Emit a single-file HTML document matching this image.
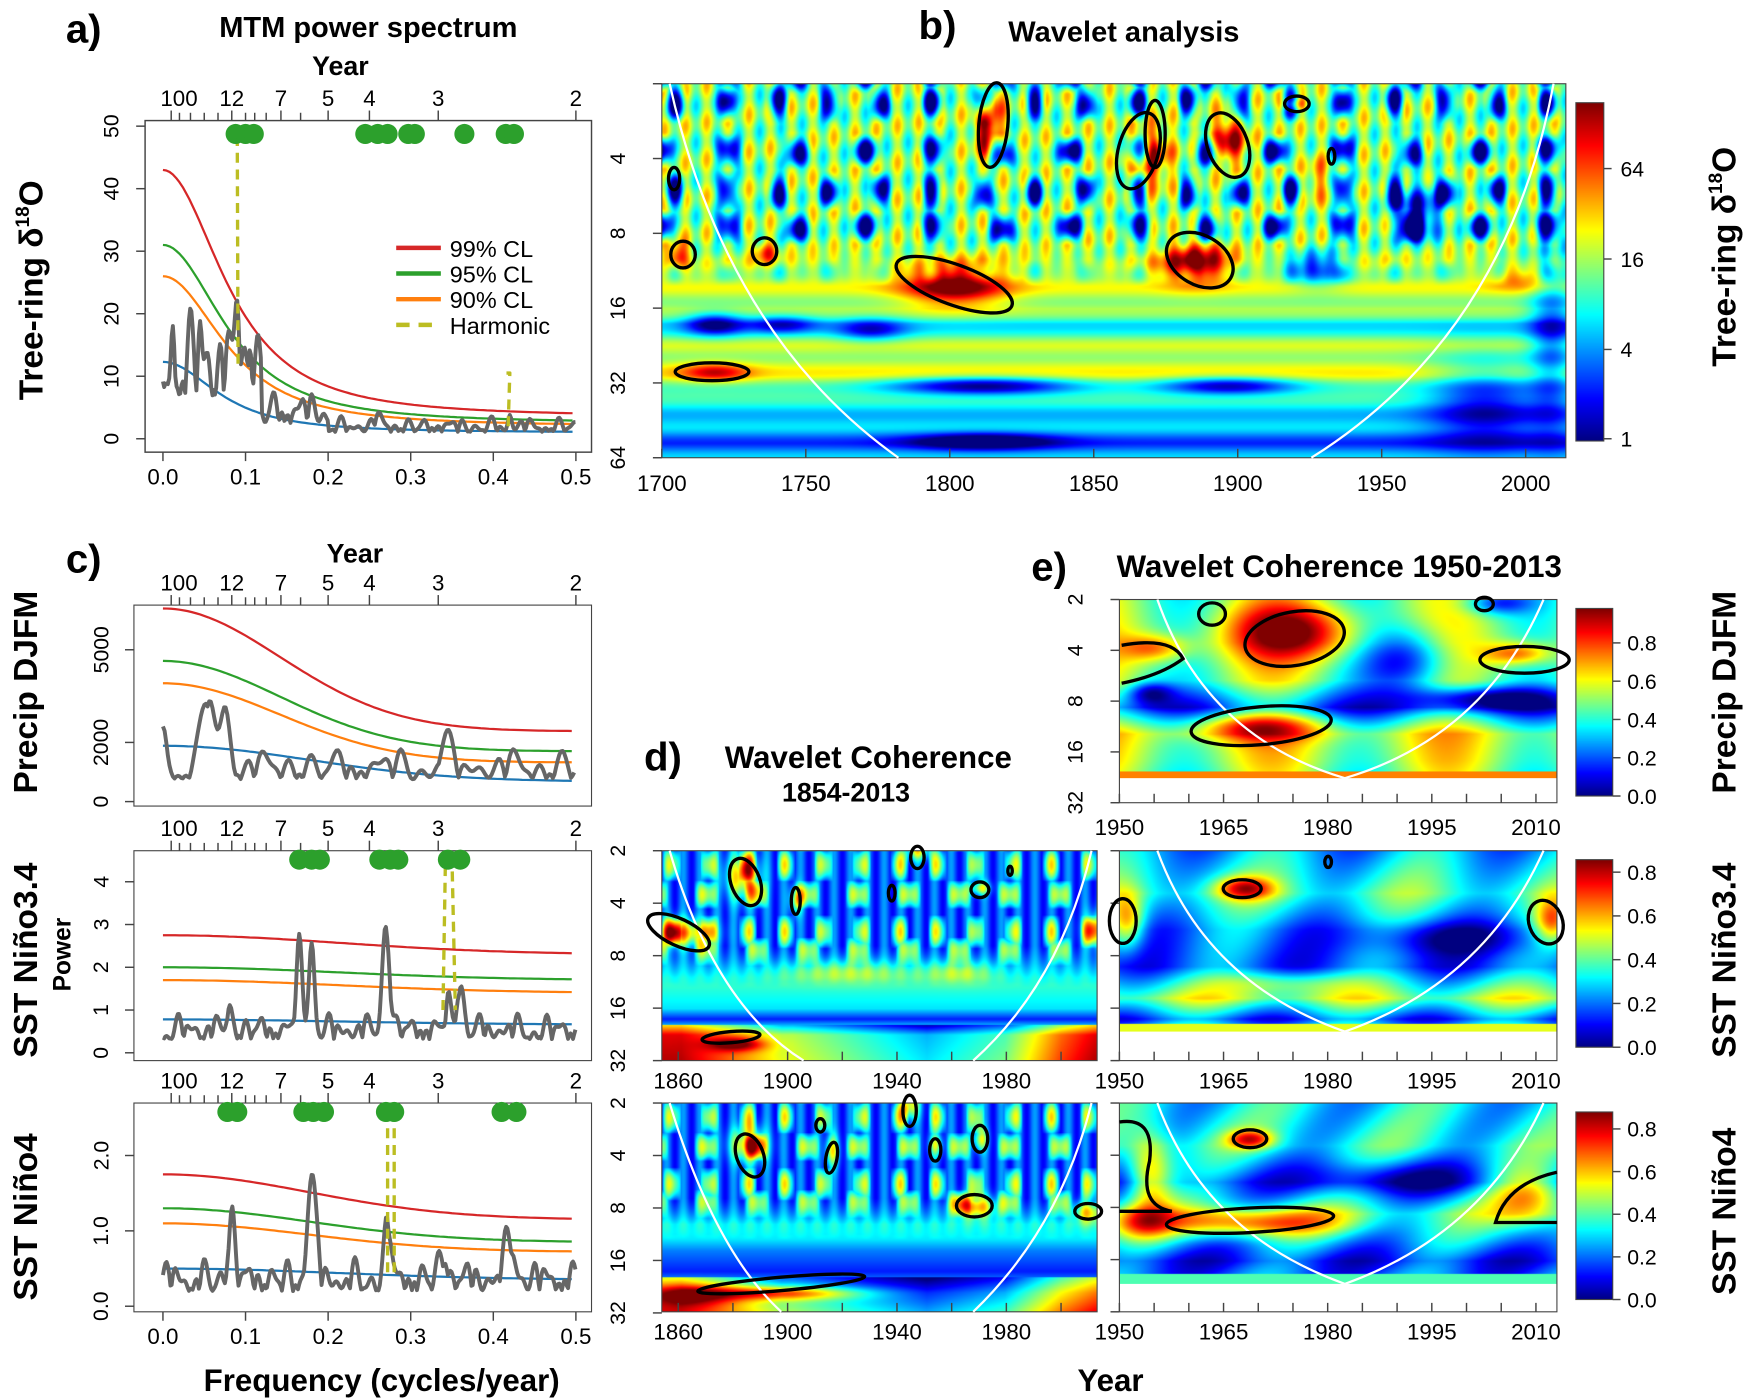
<!DOCTYPE html>
<html><head><meta charset="utf-8"><style>
html,body{margin:0;padding:0;background:#fff;width:1750px;height:1400px;overflow:hidden}
#wrap{position:absolute;left:0;top:0;width:1568px;height:1254px;transform:scale(1.11607,1.11643);transform-origin:0 0}
canvas{position:absolute}
svg{position:absolute;left:0;top:0}
text{font-family:"Liberation Sans",sans-serif}
</style></head><body><div id="wrap">
<canvas id="cb" style="left:593px;top:75px" width="810" height="335"></canvas>
<canvas id="cd1" style="left:593px;top:762px" width="390" height="188"></canvas>
<canvas id="cd2" style="left:593px;top:988px" width="390" height="187"></canvas>
<canvas id="ce1" style="left:1003px;top:537px" width="392" height="160"></canvas>
<canvas id="ce2" style="left:1003px;top:762px" width="392" height="162"></canvas>
<canvas id="ce3" style="left:1003px;top:988px" width="392" height="162"></canvas>
<canvas id="k1" style="left:1412px;top:92px" width="25" height="303"></canvas>
<canvas id="k2" style="left:1412px;top:545px" width="33" height="168"></canvas>
<canvas id="k3" style="left:1412px;top:770px" width="33" height="168"></canvas>
<canvas id="k4" style="left:1412px;top:996px" width="33" height="168"></canvas>
<svg id="s" width="1568" height="1254" viewBox="0 0 1568 1254"></svg>
</div>
<script>
function cl(v){return v<0?0:v>1?1:v}
function jet(v){v=cl(v);return [cl(1.5-Math.abs(4*v-3))*255,cl(1.5-Math.abs(4*v-2))*255,cl(1.5-Math.abs(4*v-1))*255]}
function paint(id,ox,oy,fn){var c=document.getElementById(id),x=c.getContext('2d'),w=c.width,h=c.height,im=x.createImageData(w,h);
for(var j=0;j<h;j++)for(var i=0;i<w;i++){var v=fn(ox+i,oy+j);var k=(j*w+i)*4;if(v===null){im.data[k]=im.data[k+1]=im.data[k+2]=255;}else{var c3=jet(v);im.data[k]=c3[0];im.data[k+1]=c3[1];im.data[k+2]=c3[2];}im.data[k+3]=255;}
x.putImageData(im,0,0);}
function gb(x,y,B){var s=0;for(var i=0;i<B.length;i++){var b=B[i];var dx=(x-b[0])/b[2],dy=(y-b[1])/b[3];s+=b[4]*Math.exp(-(dx*dx+dy*dy));}return s}
function prof(s,P){if(s<=P[0][0])return P[0][1];for(var i=1;i<P.length;i++){if(s<=P[i][0]){var t=(s-P[i-1][0])/(P[i][0]-P[i-1][0]);return P[i-1][1]+t*(P[i][1]-P[i-1][1]);}}return P[P.length-1][1]}
var TP=2*Math.PI;
var Bb=[[885,110,12,30,0.5],[1030,140,18,25,0.4],[1100,125,15,22,0.45],[1070,235,30,18,0.5],[855,255,45,18,0.5],[607,228,10,12,0.35],[685,225,10,10,0.3],[640,333,30,8,0.3],[1160,93,10,6,0.4],[1180,160,10,20,0.2],
[1180,240,25,15,-0.4],[1270,190,20,25,-0.45],[640,290,25,10,-0.4],[880,345,80,8,-0.45],[1100,345,60,8,-0.4],[880,395,60,7,-0.4],[1330,360,50,40,-0.3],[1390,300,20,80,-0.3],[700,290,30,8,-0.3],[780,295,30,10,-0.3],[1365,250,30,10,0.2]];
function pz(v){return v>0?v:0}
function cells(xr,yr,a,b){var c=pz(Math.sin(TP*xr/a))*pz(Math.sin(TP*yr/b+0.3));var c2=pz(Math.sin(TP*(xr+17)/(a*1.33)))*pz(Math.sin(TP*(yr+25)/(b*0.85)));return Math.max(c,c2);}
paint('cb',593,75,function(x,y){var xr=x-593,yr=y-75,s=yr/67;
var c=cells(xr,yr,46,80);
var st=0.52+0.12*Math.sin(TP*xr/19+1)+0.07*Math.sin(TP*yr/33+xr/30);
st-=0.55*Math.pow(c,1.5);
var lo=prof(s,[[2.3,0.6],[3.0,0.55],[3.2,0.35],[3.5,0.55],[3.9,0.6],[4.2,0.4],[4.6,0.3],[4.8,0.2],[5,0.3]]);
lo+=0.05*Math.sin(yr/4);
var w=cl((s-2.1)/0.6);var v=st*(1-w)+lo*w;
return v+gb(x,y,Bb);});
['k1','k2','k3','k4'].forEach(function(id){var c=document.getElementById(id),x=c.getContext('2d');for(var j=0;j<c.height;j++){var c3=jet(1-j/c.height);x.fillStyle='rgb('+(c3[0]|0)+','+(c3[1]|0)+','+(c3[2]|0)+')';x.fillRect(0,j,c.width,1);}});
function dfield(B,oy,lowP){return function(x,y){var xr=x-593,yr=y-oy,s=yr/47;
var c=cells(xr,yr,34,60);
var st=0.2+0.08*Math.sin(TP*xr/15)+0.4*Math.pow(c,0.8);
var lo=prof(s,lowP);var w=cl((s-1.8)/0.8);var v=st*(1-w)+lo*w;
if(s>3.3){v+=0.35*cl((700-x)/90)-0.25*cl(1-Math.abs(x-830)/120)+0.35*cl((x-900)/80);}
return v+gb(x,y,B);}}
paint('cd1',593,762,dfield([[665,785,15,20,0.5],[610,835,25,12,0.55],[660,935,25,6,0.35],[713,805,6,12,0.4],[822,762,10,8,0.4],[878,795,8,6,0.4],[983,832,12,15,0.4],[760,870,60,10,0.2],[860,870,30,10,0.2]],762,[[1.6,0.35],[2.4,0.45],[3.0,0.35],[3.2,0.15],[3.5,0.55],[4,0.6]]));
paint('cd2',593,988,dfield([[670,1025,15,15,0.55],[745,1030,6,14,0.4],[815,990,8,12,0.45],[838,1025,6,10,0.35],[878,1020,6,10,0.4],[873,1080,18,10,0.5],[975,1085,12,10,0.4],[700,1158,70,6,0.4],[620,1160,40,10,0.3]],988,[[1.6,0.3],[2.3,0.5],[2.8,0.25],[3.2,0.15],[3.6,0.4],[4,0.55]]));
paint('ce1',1003,537,function(x,y){if(y>697)return null;if(y>690)return 0.75;var s=(y-537)/48;
var v=prof(s,[[0,0.5],[0.8,0.55],[1.5,0.5],[2,0.2],[2.5,0.6],[3,0.55],[3.3,0.5]]);
v+=0.15*Math.sin(x/25);
return v+gb(x,y,[[1160,565,60,25,0.45],[1035,580,30,12,0.3],[1360,585,30,10,0.35],[1125,650,60,12,0.35],[1260,590,40,30,-0.4],[1330,625,60,10,-0.35],[1030,620,20,10,-0.3],[1340,540,30,10,-0.3]]);});
paint('ce2',1003,762,function(x,y){if(y>924)return null;if(y>916)return 0.6;var s=(y-762)/47;
var v=prof(s,[[0,0.3],[0.8,0.45],[1.5,0.25],[2.2,0.2],[2.8,0.55],[3.2,0.2],[3.4,0.4]]);
v+=0.12*Math.sin(x/22+s);
return v+gb(x,y,[[1115,795,25,10,0.45],[1010,825,15,25,0.4],[1390,825,15,20,0.4],[1150,880,60,10,0.2],[1300,840,80,15,-0.2]]);});
paint('ce3',1003,988,function(x,y){if(y>1150)return null;if(y>1140)return 0.45;var s=(y-988)/47;
var v=prof(s,[[0,0.35],[0.8,0.4],[1.5,0.2],[2.1,0.45],[2.6,0.3],[3.0,0.15],[3.4,0.25]]);
v+=0.12*Math.sin(x/22+s*2);
return v+gb(x,y,[[1120,1020,20,8,0.45],[1030,1050,20,35,0.45],[1120,1095,80,12,0.45],[1370,1070,35,25,0.4],[1020,1095,30,15,0.3],[1250,1055,80,15,-0.2]]);});

var S='';
function T(x,y,t,o){o=o||{};S+='<text x="'+x+'" y="'+y+'" font-size="'+(o.fs||20)+'" text-anchor="'+(o.a||'middle')+'"'+(o.b?' font-weight="bold"':'')+(o.r?' transform="rotate('+o.r+' '+x+' '+y+')"':'')+'>'+t+'</text>';}
function L(x1,y1,x2,y2,c,w,d){S+='<line x1="'+x1+'" y1="'+y1+'" x2="'+x2+'" y2="'+y2+'" stroke="'+(c||'#444')+'" stroke-width="'+(w||1.3)+'"'+(d?' stroke-dasharray="'+d+'"':'')+'/>';}
function P(pts,c,w,d){S+='<polyline fill="none" points="'+pts.map(function(p){return p[0].toFixed(1)+','+p[1].toFixed(1)}).join(' ')+'" stroke="'+c+'" stroke-width="'+w+'"'+(d?' stroke-dasharray="'+d+'"':'')+' stroke-linejoin="round"/>';}
function fx(f){return 146+f*740}
function nz(f,k){return Math.abs(Math.sin(f*120+k)*0.5+Math.sin(f*260+2*k)*0.4+Math.sin(f*430+k*3)*0.25)}
function spec(y0,sc,base,peaks,nAmp,k,off){var a=[];for(var f=0;f<=0.5;f+=0.0015){var v=base(f)*((off||0.3)+nAmp*nz(f,k))+gb(f,0,peaks.map(function(p){return [p[0],0,p[2]||0.006,1,p[1]]}));a.push([fx(f),y0-v*sc]);}return a;}
function curve(y0,sc,v0,v1,w){var a=[];for(var f=0;f<=0.5;f+=0.004){a.push([fx(f),y0-sc*(v1+(v0-v1)*Math.pow(1+(f/w)*(f/w),-1.3))]);}return a;}
function topAxis(yax){[[100,'100'],[12,'12'],[7,'7'],[5,'5'],[4,'4'],[3,'3'],[2,'2']].forEach(function(p){var x=fx(1/p[0]);L(x,yax,x,yax-9);T(x+(p[0]==100?7:0),yax-13,p[1]);});
[50,30,20,15,10,9,8,6].forEach(function(y){var x=fx(1/y);L(x,yax,x,yax-7);});}
function botAxis(yb){[0,0.1,0.2,0.3,0.4,0.5].forEach(function(f){L(fx(f),yb,fx(f),yb+8);T(fx(f),yb+29,f.toFixed(1));});}
function dots(y,fs){fs.forEach(function(f){S+='<circle cx="'+fx(f)+'" cy="'+y+'" r="9" fill="#2ca02c"/>';});}
S+='<rect x="130" y="108" width="400" height="297" fill="none" stroke="#444" stroke-width="1.3"/>';
topAxis(108);botAxis(405);
[0,10,20,30,40,50].forEach(function(v){var y=393-v*5.6;L(130,y,122,y);T(106,y,v,{r:-90,fs:19});});
var ya=393,sa=5.6;
P(curve(ya,sa,43,3.5,0.1),'#d62728',2);
P(curve(ya,sa,31,2.5,0.1),'#2ca02c',2);
P(curve(ya,sa,26,2,0.1),'#ff7f0e',2);
P(curve(ya,sa,12.3,1,0.09),'#1f77b4',2);
P(spec(ya,sa,function(f){return f<0.12?13:(f<0.2?5:2.2)},[[0.012,9,0.003],[0.045,8,0.003],[0.09,10,0.004],[0.105,6,0.003],[0.42,2,0.003],[0.26,1.2,0.008],[0.0,-8,0.003]],1.0,1,0.5),'#666',3.5);
P([[fx(0.091),ya-12*sa],[fx(0.09),ya-48*sa],[fx(0.093),ya-48*sa]],'#bcbd22',3,'9,6');
P([[fx(0.418),ya-2*sa],[fx(0.42),ya-10.5*sa],[fx(0.416),ya-10.5*sa]],'#bcbd22',3,'9,6');
dots(120,[0.088,0.1,0.11,0.245,0.26,0.272,0.297,0.305,0.365,0.415,0.425]);
[['#d62728','99% CL',222],['#2ca02c','95% CL',245],['#ff7f0e','90% CL',268],['#bcbd22','Harmonic',291]].forEach(function(l,i){L(355,l[2],395,l[2],l[0],4,i==3?'12,8':null);T(403,l[2]+8,l[1],{a:'start',fs:21});});
T(38,260,'Tree-ring δ<tspan font-size="17" dy="-12">18</tspan><tspan dy="12">O</tspan>',{r:-90,fs:30,b:1});
T(75,38,'a)',{fs:36,b:1});T(330,33,'MTM power spectrum',{fs:26,b:1});T(305,67,'Year',{fs:24,b:1});
S+='<rect x="593" y="75" width="810" height="335" fill="none" stroke="#444"/>';
[[2,75],[4,142],[8,209],[16,276],[32,343],[64,410]].forEach(function(p){L(593,p[1],585,p[1]);if(p[0]>2)T(560,p[1],p[0],{r:-90,fs:19});});
[1700,1750,1800,1850,1900,1950,2000].forEach(function(y){var x=593+(y-1700)*2.58;L(x,410,x,402);T(x,440,y);});
S+='<path d="M600,75 Q650,300 805,410" stroke="#fff" stroke-width="2" fill="none"/><path d="M1392,75 Q1350,300 1175,410" stroke="#fff" stroke-width="2" fill="none"/>';
function E(cx,cy,rx,ry,r){S+='<ellipse cx="'+cx+'" cy="'+cy+'" rx="'+rx+'" ry="'+ry+'" fill="none" stroke="#000" stroke-width="3"'+(r?' transform="rotate('+r+' '+cx+' '+cy+')"':'')+'/>';}
E(890,112,13,38,5);E(1020,135,18,35,15);E(1035,120,9,30);E(1100,130,18,30,-20);E(1075,233,32,22,30);E(855,255,55,18,20);E(604,160,5,10);E(612,228,11,12);E(685,225,11,12);E(638,333,33,8);E(1162,93,11,7);E(1193,140,3,7);
S+='<rect x="1412" y="92" width="25" height="303" fill="none" stroke="#444"/>';
[[64,151],[16,232],[4,313],[1,393]].forEach(function(p){L(1437,p[1],1444,p[1]);T(1452,p[1]+7,p[0],{a:'start',fs:19});});
T(1555,230,'Tree-ring δ<tspan font-size="17" dy="-12">18</tspan><tspan dy="12">O</tspan>',{r:-90,fs:30,b:1});
T(840,35,'b)',{fs:36,b:1});T(1007,37,'Wavelet analysis',{fs:26,b:1});
S+='<rect x="120" y="542" width="410" height="180" fill="none" stroke="#444"/>';
topAxis(542);
[[0,718],[2000,665],[5000,582]].forEach(function(p){L(120,p[1],112,p[1]);T(97,p[1],p[0],{r:-90,fs:19});});
function lin(y0,y1,w){var a=[];for(var f=0;f<=0.5;f+=0.005){a.push([fx(f),y1+(y0-y1)*Math.exp(-(f/w)*(f/w))]);}return a;}
P(lin(545,655,0.2),'#d62728',2);P(lin(592,673,0.2),'#2ca02c',2);P(lin(612,683,0.2),'#ff7f0e',2);P(lin(668,700,0.25),'#1f77b4',2);
(function(){var a=[];for(var f=0;f<=0.5;f+=0.002){var v=0.2+0.55*nz(f*0.6,2)+gb(f,0,[[0.055,0,0.01,1,1.3],[0.075,0,0.008,1,1.0],[0.34,0,0.01,1,0.4],[0.0,0,0.006,1,0.9]]);a.push([fx(f),708-v*50]);}P(a,'#666',3.5);})();
T(75,513,'c)',{fs:36,b:1});T(318,504,'Year',{fs:24,b:1});
T(33,620,'Precip DJFM',{r:-90,fs:30,b:1});
S+='<rect x="120" y="762" width="410" height="188" fill="none" stroke="#444"/>';
topAxis(762);
[0,1,2,3,4].forEach(function(v){var y=943-v*38.3;L(120,y,112,y);T(97,y,v,{r:-90,fs:19});});
var y3=943,s3=38.3;
P(lin(y3-2.75*s3,y3-2.3*s3,0.3),'#d62728',2);P(lin(y3-2.0*s3,y3-1.7*s3,0.3),'#2ca02c',2);P(lin(y3-1.7*s3,y3-1.4*s3,0.3),'#ff7f0e',2);P(lin(y3-0.78*s3,y3-0.66*s3,0.3),'#1f77b4',2);
P(spec(y3,s3,function(f){return 0.8},[[0.165,1.9,0.005],[0.18,2.1,0.005],[0.27,2.5,0.006],[0.36,1.1,0.006],[0.345,0.7,0.004],[0.08,0.6,0.004]],0.7,3,0.4),'#666',3.5);
P([[fx(0.339),y3-1*s3],[fx(0.342),y3-4.5*s3],[fx(0.35),y3-4.5*s3],[fx(0.354),y3-1*s3]],'#bcbd22',3,'9,6');
dots(770,[0.165,0.18,0.19,0.262,0.275,0.285,0.345,0.36]);
T(33,860,'SST Niño3.4',{r:-90,fs:30,b:1});T(63,855,'Power',{r:-90,fs:22,b:1});
S+='<rect x="120" y="988" width="410" height="187" fill="none" stroke="#444"/>';
topAxis(988);botAxis(1175);
[[0,'0.0'],[1,'1.0'],[2,'2.0']].forEach(function(p){var y=1170-p[0]*67.5;L(120,y,112,y);T(97,y,p[1],{r:-90,fs:19});});
var y4=1170,s4=67.5;
P(lin(y4-1.75*s4,y4-1.15*s4,0.25),'#d62728',2);P(lin(y4-1.3*s4,y4-0.85*s4,0.25),'#2ca02c',2);P(lin(y4-1.1*s4,y4-0.72*s4,0.25),'#ff7f0e',2);P(lin(y4-0.5*s4,y4-0.35*s4,0.3),'#1f77b4',2);
P(spec(y4,s4,function(f){return 0.5},[[0.083,0.9,0.005],[0.18,1.4,0.007],[0.272,0.8,0.005],[0.42,0.5,0.01],[0.34,0.3,0.008]],0.8,5,0.4),'#666',3.5);
P([[fx(0.272),y4-0.45*s4],[fx(0.272),y4-2.6*s4]],'#bcbd22',3,'9,6');P([[fx(0.28),y4-0.45*s4],[fx(0.28),y4-2.6*s4]],'#bcbd22',3,'9,6');
dots(996,[0.078,0.09,0.17,0.182,0.195,0.27,0.28,0.41,0.428]);
T(33,1090,'SST Niño4',{r:-90,fs:30,b:1});
T(342,1246,'Frequency (cycles/year)',{fs:28,b:1});
function dax(y0,h,labY){S+='<rect x="593" y="'+y0+'" width="390" height="'+h+'" fill="none" stroke="#444"/>';
[2,4,8,16,32].forEach(function(v,i){var y=y0+i*47;L(593,y,585,y);T(560,y,v,{r:-90,fs:19});});
[1860,1880,1900,1920,1940,1960,1980,2000].forEach(function(yr){var x=593+(yr-1854)*2.45;L(x,y0+h,x,y0+h-8);if(yr%40==20||yr==1860)T(x,labY,yr);});}
dax(762,188,975);dax(988,187,1200);
S+='<path d="M600,762 Q640,900 720,950" stroke="#fff" stroke-width="2" fill="none"/><path d="M978,762 Q950,880 872,950" stroke="#fff" stroke-width="2" fill="none"/>';
S+='<path d="M600,988 Q640,1120 700,1175" stroke="#fff" stroke-width="2" fill="none"/><path d="M978,988 Q950,1100 872,1175" stroke="#fff" stroke-width="2" fill="none"/>';
E(668,790,13,22,-20);E(608,835,30,12,25);E(655,929,26,5,-5);E(713,807,4,12);E(822,768,6,10);E(878,797,8,7);E(905,780,2,4);E(799,800,3,7);
E(672,1035,12,20,-20);E(745,1037,5,14,10);E(735,1008,4,6);E(815,995,6,14);E(838,1030,5,10);E(878,1020,7,12);E(873,1080,16,10);E(700,1150,75,6,-5);E(975,1085,12,7);
T(594,690,'d)',{fs:36,b:1});T(778,688,'Wavelet Coherence',{fs:28,b:1});T(758,718,'1854-2013',{fs:24,b:1});
function eax(y0,h,labY,lab){S+='<rect x="1003" y="'+y0+'" width="392" height="'+h+'" fill="none" stroke="#444"/>';
var step=h/4;[2,4,8,16,32].forEach(function(v,i){var y=y0+i*step;L(1003,y,995,y);if(lab)T(970,y,v,{r:-90,fs:19});});
for(var yr=1950;yr<=2013;yr+=5){var x=1003+(yr-1950)*6.22;L(x,y0+h,x,y0+h-8);}
[1950,1965,1980,1995,2010].forEach(function(yr){T(1003+(yr-1950)*6.22,labY,yr);});}
eax(537,182,748,1);eax(762,188,975,0);eax(988,187,1200,0);
S+='<path d="M1037,537 Q1080,660 1205,697 Q1330,660 1383,537" stroke="#fff" stroke-width="2" fill="none"/>';
S+='<path d="M1037,762 Q1080,880 1205,924 Q1330,880 1383,762" stroke="#fff" stroke-width="2" fill="none"/>';
S+='<path d="M1037,988 Q1080,1105 1205,1150 Q1330,1105 1383,988" stroke="#fff" stroke-width="2" fill="none"/>';
S+='<path d="M1005,578 Q1050,570 1060,590 Q1040,605 1005,612" fill="none" stroke="#000" stroke-width="3"/>';
E(1086,550,12,10);E(1160,572,45,24,-10);E(1330,541,8,6);E(1366,591,40,12);E(1130,650,63,17,-5);
E(1113,796,17,8);E(1006,825,12,20);E(1385,826,15,20,-20);E(1190,772,3,5);
E(1120,1020,15,8);E(1120,1093,75,11,-3);S+='<path d="M1003,1005 Q1035,1000 1030,1040 Q1020,1080 1050,1085 L1003,1085" fill="none" stroke="#000" stroke-width="3"/><path d="M1395,1050 Q1350,1060 1340,1095 L1395,1095" fill="none" stroke="#000" stroke-width="3"/>';
T(940,520,'e)',{fs:36,b:1});T(1200,517,'Wavelet Coherence 1950-2013',{fs:28,b:1});
S+='<rect x="1412" y="545" width="33" height="168" fill="none" stroke="#444"/>';[0,0.2,0.4,0.6,0.8].forEach(function(t){var y=713-t*168/0.98;L(1445,y,1452,y);T(1458,y+7,t.toFixed(1),{a:'start',fs:19});});
S+='<rect x="1412" y="770" width="33" height="168" fill="none" stroke="#444"/>';[0,0.2,0.4,0.6,0.8].forEach(function(t){var y=938-t*196;L(1445,y,1452,y);T(1458,y+7,t.toFixed(1),{a:'start',fs:19});});
S+='<rect x="1412" y="996" width="33" height="168" fill="none" stroke="#444"/>';[0,0.2,0.4,0.6,0.8].forEach(function(t){var y=1164-t*191;L(1445,y,1452,y);T(1458,y+7,t.toFixed(1),{a:'start',fs:19});});
T(1555,620,'Precip DJFM',{r:-90,fs:30,b:1});T(1555,860,'SST Niño3.4',{r:-90,fs:30,b:1});T(1555,1085,'SST Niño4',{r:-90,fs:30,b:1});
T(995,1246,'Year',{fs:28,b:1});
document.getElementById('s').innerHTML=S;
</script></body></html>
